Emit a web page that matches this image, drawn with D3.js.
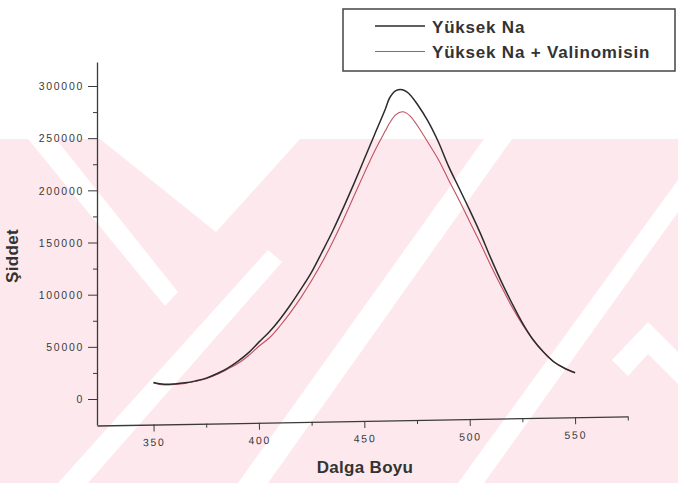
<!DOCTYPE html>
<html><head><meta charset="utf-8">
<script src="https://cdn.jsdelivr.net/npm/d3@7"></script>
<style>
html,body{margin:0;padding:0;background:#fff;}
svg{display:block;}
text{font-family:"Liberation Sans",Arial,sans-serif;}
</style></head>
<body>
<svg id="chart" width="678" height="483"></svg>
<script>
// ---- data ----
const wavelength = [350,355,360,365,370,375,380,385,390,395,400,405,410,415,420,425,430,435,440,445,450,455,460,462,465,468,470,472,475,480,485,490,495,500,505,510,515,520,525,530,535,540,545,550];
const yuksekNa = [15800,14200,14500,15500,17400,20000,24200,29400,36100,44200,54500,64500,76500,90300,105500,121600,141000,161000,183000,206000,230000,254000,278000,288500,295500,296500,294500,291000,283000,267000,247000,223000,202000,181000,159000,135000,112500,92000,73000,57000,45000,35500,29500,25200];
const yuksekNaVal = [15500,13500,14000,15000,17000,19500,23500,28500,34000,41500,50600,58700,70000,83000,97400,113500,131000,150600,171600,194000,216500,238000,257000,264500,272500,275300,274000,270600,262600,246600,230000,210000,190500,170000,149500,128000,107800,88500,71500,57000,45000,35500,29500,25200];
const seriesNames = ["Yüksek Na","Yüksek Na + Valinomisin"];
const xTicks = [350,400,450,500,550];
const xMinor = [375,425,475,525,575];
const yTicks = [0,50000,100000,150000,200000,250000,300000];
const yMinor = [25000,75000,125000,175000,225000,275000];
const xTitle = "Dalga Boyu";
const yTitle = "Şiddet";

const svg = d3.select("#chart");

// ---- faint background watermark ----
const pink = "#fde9ed";
const wm = svg.append("g");
wm.append("rect").attr("x",0).attr("y",139).attr("width",678).attr("height",344).attr("fill",pink);
const whites = [
  [[100,139],[300,139],[216,232]],
  [[28,139],[56,139],[178,292],[165,306]],
  [[58,483],[88,483],[282,262],[268,250]],
  [[238,483],[268,483],[512,139],[484,139]],
  [[458,483],[484,483],[678,212],[678,180]],
  [[612,360],[648,322],[678,352],[678,384],[648,354],[628,376]]
];
whites.forEach(p=>wm.append("polygon").attr("points",p.map(d=>d.join(",")).join(" ")).attr("fill","#fff"));

// ---- scales ----
const x = d3.scaleLinear().domain([323.2,575]).range([97,627.8]);
const y = d3.scaleLinear().domain([-25000,323000]).range([425.1,62]);

const axisColor = "#3a3a3a";
const labelColor = "#3a3a3a";

// ---- y axis ----
const gy = svg.append("g").attr("transform","translate(97,0)");
gy.call(d3.axisLeft(y).tickValues(yTicks).tickSize(9).tickSizeOuter(0).tickPadding(4).tickFormat(d3.format("d")));
gy.append("g").call(d3.axisLeft(y).tickValues(yMinor).tickSize(4).tickFormat("")).select(".domain").remove();
gy.selectAll(".domain").attr("stroke",axisColor).attr("stroke-width",1.3);
gy.selectAll(".tick line").attr("stroke",axisColor).attr("stroke-width",1);
gy.selectAll(".tick text").attr("fill",labelColor).style("font-size","10.5px").style("letter-spacing","1.7px").attr("dy","0.35em");

// ---- x axis (slightly tilted as in the scan) ----
const gx = svg.append("g").attr("transform","translate(0,425.5) rotate(-0.98,97,0)");
gx.call(d3.axisBottom(x).tickValues(xTicks).tickSize(7).tickSizeOuter(0).tickPadding(7).tickFormat(d3.format("d")));
gx.append("g").call(d3.axisBottom(x).tickValues(xMinor).tickSize(4).tickFormat("")).select(".domain").remove();
gx.selectAll(".domain").attr("stroke",axisColor).attr("stroke-width",1.3);
gx.selectAll(".tick line").attr("stroke",axisColor).attr("stroke-width",1);
gx.selectAll(".tick text").attr("fill",labelColor).style("font-size","10.5px").style("letter-spacing","1.7px");

// ---- titles ----
svg.append("text").attr("x",365).attr("y",473).attr("text-anchor","middle")
  .attr("fill","#333").style("font-size","17px").style("font-weight","bold").style("letter-spacing","0.3px").text(xTitle);
svg.append("text").attr("transform","translate(18,256) rotate(-90)").attr("text-anchor","middle")
  .attr("fill","#333").style("font-size","17px").style("font-weight","bold").style("letter-spacing","0.3px").text(yTitle);

// ---- curves ----
const line = d3.line().x((d,i)=>x(wavelength[i])).y(d=>y(d)).curve(d3.curveCatmullRom.alpha(0.5));
svg.append("path").datum(yuksekNaVal).attr("d",line).attr("fill","none").attr("stroke","#c0505e").attr("stroke-width",1.1);
svg.append("path").datum(yuksekNa).attr("d",line).attr("fill","none").attr("stroke","#2b2b2b").attr("stroke-width",1.5);

// ---- legend ----
const lg = svg.append("g");
lg.append("rect").attr("x",343).attr("y",9).attr("width",332).attr("height",62).attr("fill","#fff").attr("stroke","#444").attr("stroke-width",1.5);
const legColors = ["#2b2b2b","#c0505e"];
const legWidths = [1.4,1.1];
seriesNames.forEach((n,i)=>{
  const ly = 26 + i*25.5;
  lg.append("line").attr("x1",375).attr("x2",425).attr("y1",ly).attr("y2",ly).attr("stroke",legColors[i]).attr("stroke-width",legWidths[i]);
  lg.append("text").attr("x",432).attr("y",ly+6.5).attr("fill","#333").style("font-size","17px").style("font-weight","bold").style("letter-spacing","0.8px").text(n);
});
</script>
</body></html>
